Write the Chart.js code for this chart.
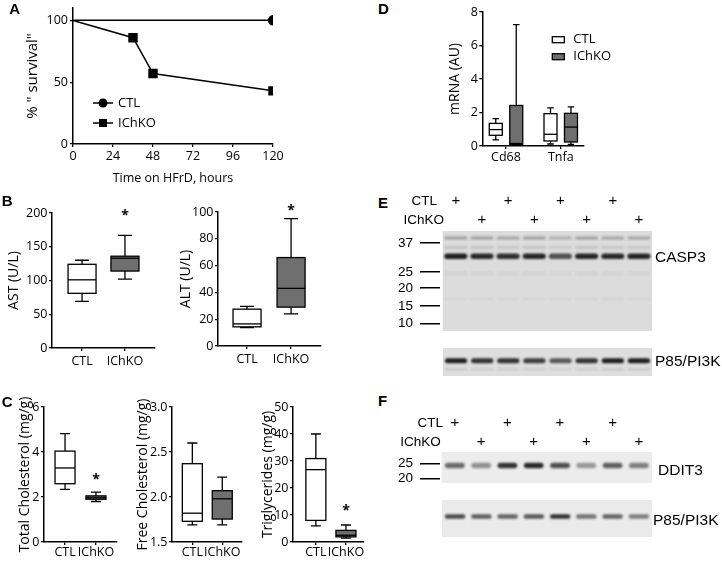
<!DOCTYPE html>
<html>
<head>
<meta charset="utf-8">
<script src="https://cdn.jsdelivr.net/npm/chart.js@4.4.1/dist/chart.umd.min.js"></script>
<style>
  body { margin: 0; background: #fff; }
  #fig { position: relative; width: 722px; height: 561px; overflow: hidden; }
  #fig canvas { position: absolute; }
  .txt { position: absolute; white-space: nowrap; line-height: 1; color: #000; transform: translateY(-50%); }
  .arial { font-family: 'Liberation Sans', Arial, sans-serif; }
  .letter { position: absolute; font: bold 15px/15px 'Liberation Sans', Arial, sans-serif; }
</style>
</head>
<body>
<div id="fig"></div>
<script>
// ---------- values ----------
const groups = ['CTL', 'IChKO'];

// A: survival
const survTicksX = [0, 24, 48, 72, 96, 120];
const survTicksY = [0, 50, 100];
const ctlHours = [0, 120];
const ctlSurv = [100, 100];
const ichkoHours = [0, 36, 48, 120];
const ichkoSurv = [100, 86, 57, 43];

// box stats: [min, q1, median, q3, max], one row per group
const astBox = [[69, 81, 101, 124, 130], [102, 114, 133, 136, 167]];
const altBox = [[13.8, 14.3, 16.5, 27.5, 29.5], [24, 29, 43, 66, 95]];
const tcBox = [[2.34, 2.59, 3.29, 4.04, 4.82], [1.8, 1.9, 1.97, 2.05, 2.22]];
const fcBox = [[1.69, 1.73, 1.82, 2.37, 2.6], [1.69, 1.755, 1.98, 2.07, 2.22]];
const tgBox = [[6, 8, 26.8, 30.9, 40], [1.4, 1.9, 2.5, 4.3, 6.3]];
// where the significance stars sit (y value), per group
const astStar = [null, 200];
const altStar = [null, 103];
const tcStar = [null, 2.9];
const tgStar = [null, 12.5];

// D: mRNA
const genes = ['Cd68', 'Tnfa'];
const mrnaCtl = [[0.36, 0.64, 0.98, 1.35, 1.63], [0.12, 0.3, 0.7, 1.93, 2.28]];
const mrnaIchko = [[0.05, 0.1, 0.15, 2.42, 7.25], [0.1, 0.24, 1.13, 1.95, 2.34]];

// E/F: blots (8 lanes, band positions as migration from top of membrane)
const lanes = [1, 2, 3, 4, 5, 6, 7, 8];
const ctlLane = ['+', '', '+', '', '+', '', '+', ''];
const ichkoLane = ['', '+', '', '+', '', '+', '', '+'];

const casp3Run = 110.7;
const casp3Kda = [37, 25, 20, 15, 10];
const casp3MarkerPos = [13.3, 45.7, 63.3, 83.3, 102.3];
const casp3BandPos = [7.7, 18.3, 28, 47, 75.5];
const casp3BandDens = [
  [0.3, 0.3, 0.28, 0.3, 0.22, 0.3, 0.28, 0.28],
  [0.15, 0.15, 0.12, 0.15, 0.1, 0.15, 0.12, 0.12],
  [0.95, 0.9, 0.88, 0.92, 0.7, 0.92, 0.9, 0.92],
  [0.05, 0.04, 0.04, 0.05, 0.03, 0.05, 0.04, 0.04],
  [0.04, 0.06, 0.05, 0.06, 0.05, 0.06, 0.07, 0.06]
];
const p85eRun = 28.4;
const p85eBandPos = [13, 21.5];
const p85eBandDens = [
  [0.95, 0.85, 0.85, 0.8, 0.65, 0.85, 0.95, 0.95],
  [0.12, 0.1, 0.1, 0.1, 0.08, 0.1, 0.12, 0.12]
];

const ddit3Run = 41.6;
const ddit3Kda = [25, 20];
const ddit3MarkerPos = [15.6, 35.6];
const ddit3BandPos = [18.3];
const ddit3BandDens = [[0.6, 0.42, 0.85, 0.9, 0.72, 0.38, 0.65, 0.5]];
const p85fRun = 37.3;
const p85fBandPos = [16.7];
const p85fBandDens = [[0.75, 0.65, 0.62, 0.68, 0.85, 0.55, 0.62, 0.5]];

// ---------- helpers ----------
Chart.defaults.font.family = "'Open Sans', sans-serif";
Chart.defaults.font.size = 12.5;
Chart.defaults.color = '#000';

const ARIAL = "'Liberation Sans', Arial, sans-serif";
const grayFill = '#6f6f6f';
const groupFill = ['#fff', grayFill];
const fig = document.getElementById('fig');

function addCanvas(left, top, w, h) {
  const c = document.createElement('canvas');
  w = Math.round(w); h = Math.round(h);
  c.width = w; c.height = h;
  c.style.width = w + 'px'; c.style.height = h + 'px';
  c.style.left = left + 'px'; c.style.top = top + 'px';
  fig.appendChild(c);
  return c;
}

function addText(text, x, y, cls, align, size) {
  const d = document.createElement('div');
  d.className = cls;
  d.textContent = text;
  if (align === 'right') d.style.right = (722 - x) + 'px'; else d.style.left = x + 'px';
  d.style.top = y + 'px';
  if (size) d.style.fontSize = size + 'px';
  fig.appendChild(d);
}

const tickGrid = { drawOnChartArea: false, drawTicks: true, tickLength: 3, color: '#000', lineWidth: 1.3 };
const axisBorder = { display: true, color: '#000', width: 1.5 };
const fixTicks = vals => scale => { scale.ticks = vals.map(v => ({ value: v })); };

// ---------- A: survival ----------
const survLegend = {
  id: 'survLegend',
  afterDraw(chart) {
    const { ctx, chartArea: a } = chart;
    ctx.save();
    ctx.font = "13px 'Open Sans'";
    ctx.textBaseline = 'middle';
    chart.data.datasets.forEach((ds, i) => {
      const cx = a.left + 30, cy = a.top + 95 + i * 20;
      ctx.strokeStyle = '#000'; ctx.lineWidth = 1.5;
      ctx.beginPath(); ctx.moveTo(cx - 10, cy); ctx.lineTo(cx + 10, cy); ctx.stroke();
      ctx.fillStyle = '#000';
      if (ds.pointStyle === 'rect') ctx.fillRect(cx - 4, cy - 4, 8, 8);
      else { ctx.beginPath(); ctx.arc(cx, cy, 4.5, 0, Math.PI * 2); ctx.fill(); }
      ctx.fillText(ds.label, cx + 15, cy);
    });
    ctx.restore();
  }
};

new Chart(addCanvas(0, -8, 293, 196), {
  type: 'line',
  data: {
    datasets: [
      {
        label: groups[0],
        data: ctlHours.map((h, i) => ({ x: h, y: ctlSurv[i] })),
        borderColor: '#000', borderWidth: 1.5,
        pointStyle: 'circle', pointRadius: [0, 4.5],
        pointBackgroundColor: '#000', pointBorderColor: '#000'
      },
      {
        label: groups[1],
        data: ichkoHours.map((h, i) => ({ x: h, y: ichkoSurv[i] })),
        borderColor: '#000', borderWidth: 1.5,
        pointStyle: 'rect', pointRadius: [0, 5.6, 5.6, 5.6],
        pointBackgroundColor: '#000', pointBorderColor: '#000'
      }
    ]
  },
  options: {
    responsive: false, maintainAspectRatio: false, animation: false,
    layout: { padding: { left: 0, top: 16, right: 20, bottom: 0 } },
    plugins: { legend: { display: false }, tooltip: { enabled: false } },
    scales: {
      x: {
        type: 'linear', min: 0, max: 120,
        afterBuildTicks: fixTicks(survTicksX),
        afterFit: s => { s.height = 44; },
        ticks: { padding: 2, maxRotation: 0 },
        grid: tickGrid, border: axisBorder,
        title: { display: true, text: 'Time on HFrD, hours', font: { size: 12.5 }, padding: { top: 0, bottom: 2.5 } }
      },
      y: {
        min: 0, max: 110,
        afterBuildTicks: fixTicks(survTicksY),
        afterFit: s => { s.width = 73; },
        ticks: { padding: 2 },
        grid: tickGrid, border: axisBorder,
        title: { display: true, text: '% " survival"', font: { size: 15 }, padding: { top: 24, bottom: 0 } }
      }
    }
  },
  plugins: [survLegend]
});

// ---------- box plots ----------
function boxDrawer(sets, half, stars) {
  return {
    id: 'boxes',
    afterDatasetsDraw(chart) {
      const { ctx, scales: { x, y } } = chart;
      ctx.save();
      ctx.strokeStyle = '#000';
      ctx.lineWidth = 1.3;
      sets.forEach(set => {
        set.stats.forEach((s, i) => {
          const cx = x.getPixelForValue(i + set.shift);
          const [lo, q1, med, q3, hi] = s.map(v => y.getPixelForValue(v));
          ctx.beginPath();
          ctx.moveTo(cx, q3); ctx.lineTo(cx, hi);
          ctx.moveTo(cx - half / 2, hi); ctx.lineTo(cx + half / 2, hi);
          ctx.moveTo(cx, q1); ctx.lineTo(cx, lo);
          ctx.moveTo(cx - half / 2, lo); ctx.lineTo(cx + half / 2, lo);
          ctx.stroke();
          ctx.fillStyle = set.fill;
          ctx.fillRect(cx - half, q3, half * 2, q1 - q3);
          ctx.strokeRect(cx - half, q3, half * 2, q1 - q3);
          ctx.beginPath();
          ctx.moveTo(cx - half, med); ctx.lineTo(cx + half, med);
          ctx.stroke();
        });
      });
      ctx.fillStyle = '#000';
      ctx.font = "bold 14px 'Open Sans'";
      ctx.textAlign = 'center';
      ctx.textBaseline = 'middle';
      (stars || []).forEach((v, i) => {
        if (v == null) return;
        ctx.fillText('*', x.getPixelForValue(i), y.getPixelForValue(v) + 3);
      });
      ctx.restore();
    }
  };
}

function boxPanel(o) {
  const [l, t, r, b] = o.area;
  const padT = 16, padR = o.padR || 14, padB = o.padB;
  const cv = addCanvas(l - o.padL, t - padT, r - l + o.padL + padR, b - t + padT + padB);
  const extra = o.extra ? [o.extra] : [];
  return new Chart(cv, {
    type: 'scatter',
    data: {
      datasets: o.sets.map(s => ({
        data: s.stats.map((st, i) => ({ x: i + s.shift, y: st[2] })),
        pointRadius: 0
      }))
    },
    options: {
      responsive: false, maintainAspectRatio: false, animation: false,
      layout: { padding: { left: 0, top: padT, right: padR, bottom: 0 } },
      plugins: { legend: { display: false }, tooltip: { enabled: false } },
      scales: {
        x: {
          type: 'linear', min: o.xMin, max: o.xMax,
          afterBuildTicks: fixTicks(o.labels.map((_, i) => i)),
          afterFit: s => { s.height = padB; },
          ticks: { padding: o.xPad, maxRotation: 0, autoSkip: false, callback: v => o.labels[v] },
          grid: tickGrid, border: axisBorder
        },
        y: {
          min: o.yMin, max: o.yMax,
          afterBuildTicks: fixTicks(o.yTicks),
          afterFit: s => { s.width = o.padL; },
          ticks: { padding: 1.5, callback: o.fmt || (v => v) },
          grid: tickGrid, border: axisBorder,
          title: { display: true, text: o.title, font: { size: 14 }, padding: { top: o.titlePad, bottom: 0 } }
        }
      }
    },
    plugins: [boxDrawer(o.sets, o.half, o.stars)].concat(extra)
  });
}

const twoGroups = data => groups.map((g, k) => ({ stats: [data[k]], shift: k, fill: groupFill[k] }));

boxPanel({
  area: [52, 213, 155, 348], padL: 52, padB: 30, xPad: 3, xMin: -0.7, xMax: 1.7, labels: groups,
  yMin: 0, yMax: 200, yTicks: [0, 50, 100, 150, 200], title: 'AST (U/L)', titlePad: 5.6,
  half: 14, sets: twoGroups(astBox), stars: astStar
});
boxPanel({
  area: [218, 212.3, 321, 346], padL: 53, padB: 30, xPad: 3, xMin: -0.66, xMax: 1.68, labels: groups,
  yMin: 0, yMax: 100, yTicks: [0, 20, 40, 60, 80, 100], title: 'ALT (U/L)', titlePad: 12.6,
  half: 14, sets: twoGroups(altBox), stars: altStar
});
boxPanel({
  area: [44, 406.7, 117, 541.7], padL: 44, padB: 20, xPad: 0, xMin: -0.68, xMax: 1.68, labels: groups,
  yMin: 0, yMax: 6, yTicks: [0, 2, 4, 6], title: 'Total Cholesterol (mg/g)', titlePad: 16.6,
  half: 10, sets: twoGroups(tcBox), stars: tcStar
});
boxPanel({
  area: [171.7, 406.7, 242, 541.7], padL: 50, padB: 20, xPad: 0, xMin: -0.68, xMax: 1.66, labels: groups,
  yMin: 1.5, yMax: 3, yTicks: [1.5, 2, 2.5, 3], fmt: v => v.toFixed(1),
  title: 'Free Cholesterol (mg/g)', titlePad: 12.9,
  half: 10, sets: twoGroups(fcBox)
});
boxPanel({
  area: [293.3, 406.7, 364, 541.7], padL: 50, padB: 20, xPad: 0, xMin: -0.76, xMax: 1.6, labels: groups,
  yMin: 0, yMax: 50, yTicks: [0, 10, 20, 30, 40, 50], title: 'Triglycerides (mg/g)', titlePad: 16.3,
  half: 10, sets: twoGroups(tgBox), stars: tgStar
});

// ---------- D: mRNA ----------
const mrnaLegend = {
  id: 'mrnaLegend',
  afterDraw(chart) {
    const { ctx, chartArea: a } = chart;
    ctx.save();
    ctx.font = "13px 'Open Sans'";
    ctx.textBaseline = 'middle';
    ctx.lineWidth = 1.3;
    ctx.strokeStyle = '#000';
    groups.forEach((g, i) => {
      const y0 = a.top + 24.7 + i * 17;
      ctx.fillStyle = groupFill[i];
      ctx.fillRect(a.left + 70, y0, 12, 6);
      ctx.strokeRect(a.left + 70, y0, 12, 6);
      ctx.fillStyle = '#000';
      ctx.fillText(g, a.left + 91, y0 + 3);
    });
    ctx.restore();
  }
};

boxPanel({
  area: [482.3, 12.3, 584, 146.7], padL: 52.3, padB: 20, padR: 40, xPad: 1, xMin: -0.433, xMax: 1.425, labels: genes,
  yMin: 0, yMax: 8, yTicks: [0, 2, 4, 6, 8], title: 'mRNA (AU)', titlePad: 16.6, half: 6.5,
  sets: [
    { stats: mrnaCtl, shift: -0.187, fill: groupFill[0] },
    { stats: mrnaIchko, shift: 0.187, fill: groupFill[1] }
  ],
  extra: mrnaLegend
});

// ---------- E/F: blots ----------
function blotDrawer(o) {
  return {
    id: 'blot',
    beforeDatasetsDraw(chart) {
      const { ctx, scales: { x, y } } = chart;
      const x0 = x.getPixelForValue(0.5), x1 = x.getPixelForValue(8.5);
      const y0 = y.getPixelForValue(0), y1 = y.getPixelForValue(o.run);
      const laneW = (x1 - x0) / 8;
      ctx.save();
      ctx.fillStyle = o.bg;
      ctx.fillRect(x0, y0, x1 - x0, y1 - y0);
      ctx.beginPath(); ctx.rect(x0, y0, x1 - x0, y1 - y0); ctx.clip();
      ctx.filter = 'blur(1px)';
      o.bandPos.forEach((pos, k) => {
        const cy = y.getPixelForValue(pos);
        const th = o.thick[k];
        o.bandDens[k].forEach((d, i) => {
          const cx = x.getPixelForValue(lanes[i]);
          const w = laneW * o.bandW;
          ctx.fillStyle = `rgba(20,20,20,${d})`;
          ctx.beginPath();
          if (ctx.roundRect) ctx.roundRect(cx - w / 2, cy - th / 2, w, th, th / 2);
          else ctx.rect(cx - w / 2, cy - th / 2, w, th);
          ctx.fill();
        });
      });
      ctx.restore();
    }
  };
}

function blotPanel(o) {
  const [l, t, r, b] = o.blot;
  const laneW = (r - l) / 8;
  const hasMarkers = !!o.markerPos;
  const hasPlus = o.plusPad != null;
  const gap = hasMarkers ? o.gap : 0;
  const padL = o.padL, padT = o.padT, padR = 4, padB = 4;
  const cv = addCanvas(l - gap - padL, t - padT, r - l + gap + padL + padR, b - t + padT + padB);
  // hidden scales still take their afterFit size, so padding only on right/bottom
  return new Chart(cv, {
    type: 'scatter',
    data: { datasets: [{ data: lanes.map(n => ({ x: n, y: o.bandPos[0] })), pointRadius: 0 }] },
    options: {
      responsive: false, maintainAspectRatio: false, animation: false,
      layout: { padding: { left: 0, top: 0, right: padR, bottom: padB } },
      plugins: { legend: { display: false }, tooltip: { enabled: false } },
      scales: {
        x: {
          type: 'linear', position: 'top', display: hasPlus,
          min: 0.5 - gap / laneW, max: 8.5,
          afterBuildTicks: fixTicks(lanes),
          afterFit: s => { s.height = padT; },
          ticks: {
            padding: o.plusPad || 0, maxRotation: 0, autoSkip: false,
            font: { family: ARIAL, size: 15, lineHeight: 1.29 },
            callback: (v, i) => [ctlLane[i], ichkoLane[i]]
          },
          grid: { display: false, drawTicks: false }, border: { display: false }
        },
        y: {
          reverse: true, min: 0, max: o.run, display: hasMarkers,
          afterBuildTicks: fixTicks(o.markerPos || []),
          afterFit: s => { s.width = padL; },
          ticks: { padding: 7, font: { family: ARIAL, size: 13.5 }, callback: (v, i) => o.markerKda[i] },
          grid: { display: true, drawOnChartArea: false, drawTicks: true, tickLength: 20, color: '#000', lineWidth: 1.5 },
          border: { display: false }
        }
      }
    },
    plugins: [blotDrawer(o)]
  });
}

blotPanel({
  blot: [442.7, 231, 651.7, 341.7], gap: 2.7, padL: 45, padT: 46, plusPad: 1.3, bg: '#dcdcdc',
  run: casp3Run, markerPos: casp3MarkerPos, markerKda: casp3Kda,
  bandPos: casp3BandPos, bandDens: casp3BandDens, thick: [3, 2.5, 5.5, 4, 1.5], bandW: 0.88
});
blotPanel({
  blot: [442.7, 348.3, 651.7, 376.7], padL: 48, padT: 6, bg: '#dedede',
  run: p85eRun, bandPos: p85eBandPos, bandDens: p85eBandDens, thick: [5, 2], bandW: 0.85
});
blotPanel({
  blot: [441.7, 451.7, 651.7, 493.3], gap: 1.7, padL: 45, padT: 46, plusPad: 0, bg: '#ececec',
  run: ddit3Run, markerPos: ddit3MarkerPos, markerKda: ddit3Kda,
  bandPos: ddit3BandPos, bandDens: ddit3BandDens, thick: [5.5], bandW: 0.75
});
blotPanel({
  blot: [441.7, 500, 651.7, 537.3], padL: 48, padT: 6, bg: '#eaeaea',
  run: p85fRun, bandPos: p85fBandPos, bandDens: p85fBandDens, thick: [4.5], bandW: 0.78
});

// ---------- text labels ----------
[['A', 9.3, 1], ['B', 1.7, 193], ['C', 1.7, 393.5], ['D', 378, 1], ['E', 378, 194.7], ['F', 378, 393]]
  .forEach(([s, x, y]) => {
    const d = document.createElement('div');
    d.className = 'letter';
    d.textContent = s;
    d.style.left = x + 'px'; d.style.top = y + 'px';
    fig.appendChild(d);
  });

addText(groups[0], 437, 200.7, 'txt arial', 'right', 13.5);
addText(groups[1], 444, 220, 'txt arial', 'right', 13.5);
addText(groups[0], 443, 423.3, 'txt arial', 'right', 13.5);
addText(groups[1], 440.7, 442.3, 'txt arial', 'right', 13.5);
addText('CASP3', 655, 257, 'txt arial', 'left', 15.5);
addText('P85/PI3K', 655, 361.3, 'txt arial', 'left', 15.5);
addText('DDIT3', 658, 470, 'txt arial', 'left', 15.5);
addText('P85/PI3K', 653, 520, 'txt arial', 'left', 15.5);
</script>
</body>
</html>
